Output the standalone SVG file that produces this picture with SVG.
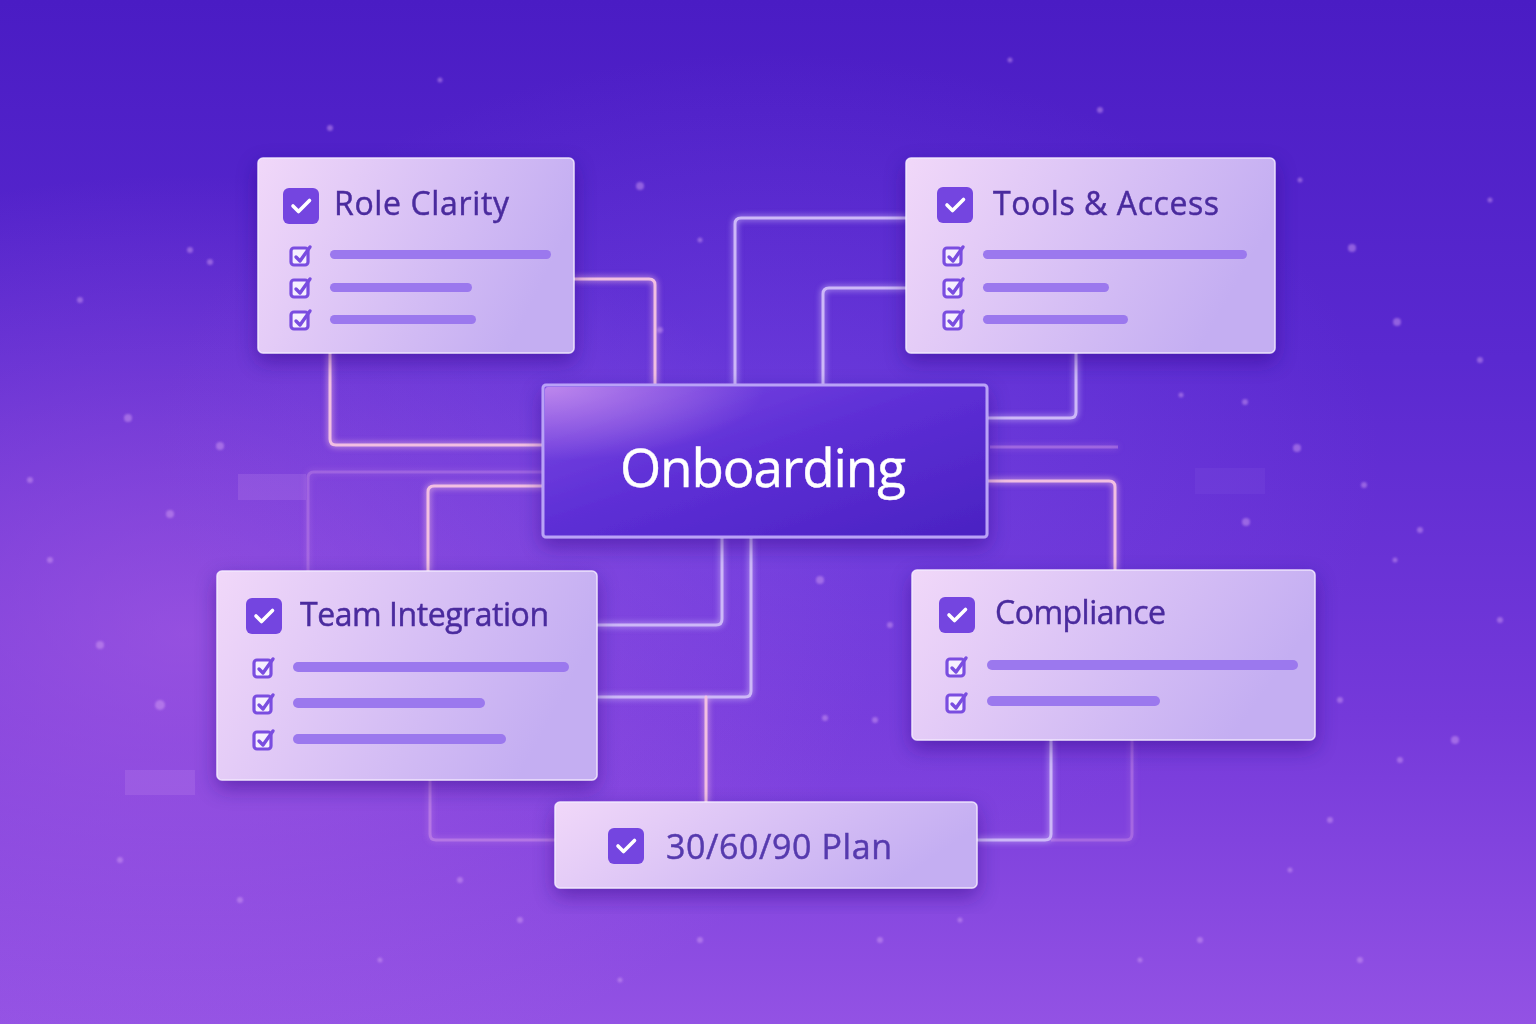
<svg xmlns="http://www.w3.org/2000/svg" xmlns:xlink="http://www.w3.org/1999/xlink" width="1536" height="1024" viewBox="0 0 1536 1024">
<defs>
  <linearGradient id="bg" x1="0" y1="0" x2="0" y2="1">
    <stop offset="0" stop-color="#4a1cc4"/>
    <stop offset="0.35" stop-color="#5a29d0"/>
    <stop offset="0.7" stop-color="#7539da"/>
    <stop offset="1" stop-color="#9352e4"/>
  </linearGradient>
  <radialGradient id="glowL" cx="0.12" cy="0.62" r="0.45">
    <stop offset="0" stop-color="#b466e6" stop-opacity="0.55"/>
    <stop offset="1" stop-color="#b466e6" stop-opacity="0"/>
  </radialGradient>
  <radialGradient id="glowC" cx="0.5" cy="0.45" r="0.4">
    <stop offset="0" stop-color="#8a5cf0" stop-opacity="0.35"/>
    <stop offset="1" stop-color="#8a5cf0" stop-opacity="0"/>
  </radialGradient>
  <linearGradient id="card" x1="0" y1="0" x2="1" y2="0.3">
    <stop offset="0" stop-color="#f1d8f9"/>
    <stop offset="1" stop-color="#c4aef2"/>
  </linearGradient>
  <linearGradient id="hub" x1="0" y1="0" x2="1" y2="1">
    <stop offset="0" stop-color="#7e4ae4"/>
    <stop offset="0.45" stop-color="#5e2fd6"/>
    <stop offset="1" stop-color="#4a22c2"/>
  </linearGradient>
  <radialGradient id="hubGlow" cx="0" cy="0" r="0.5">
    <stop offset="0" stop-color="#f0b8f4" stop-opacity="0.55"/>
    <stop offset="1" stop-color="#f0b8f4" stop-opacity="0"/>
  </radialGradient>
  <filter id="shadow" x="-20%" y="-20%" width="140%" height="150%">
    <feDropShadow dx="0" dy="8" stdDeviation="10" flood-color="#2a0a80" flood-opacity="0.45"/>
  </filter>
  <filter id="lineGlow" x="-20%" y="-20%" width="140%" height="140%">
    <feGaussianBlur stdDeviation="3" result="b"/>
    <feMerge><feMergeNode in="b"/><feMergeNode in="SourceGraphic"/></feMerge>
  </filter>
  <filter id="soft" x="-50%" y="-50%" width="200%" height="200%">
    <feGaussianBlur stdDeviation="1.2"/>
  </filter>
  <g id="bigcheck">
    <rect x="-18" y="-18" width="36" height="36" rx="6" fill="#7445e0"/>
    <path d="M-8 0 L-2.5 5.5 L8.5 -5.5" fill="none" stroke="#ffffff" stroke-width="3.6" stroke-linecap="round" stroke-linejoin="round"/>
  </g>
  <g id="smallcheck">
    <rect x="-10" y="-8" width="17" height="17" rx="3" fill="#f6efff" stroke="#7a4de0" stroke-width="3.2"/>
    <path d="M-5 1 L-1 5 L9 -9" fill="none" stroke="#7a4de0" stroke-width="3.4" stroke-linecap="round" stroke-linejoin="round"/>
  </g>
</defs>
<style>
  .card { fill: url(#card); stroke: #f5ecff; stroke-opacity: 0.85; stroke-width: 1.5; filter: url(#shadow); }
  .title { font-family: "Open Sans", "Noto Sans", "DejaVu Sans", sans-serif; font-size: 32px; fill: #4a2b9e; stroke: #4a2b9e; stroke-width: 0.45; }
  .bar { fill: #9b78ee; }
  .conn { fill: none; stroke-width: 3; stroke-linecap: round; stroke-linejoin: round; }
  .lav { stroke: #cdb8f8; }
  .pink { stroke: #f2bfe2; }
  .ghost { fill: none; stroke-width: 3; stroke: #d79ce8; }
  .dot { fill: #d8a6f6; }
</style>

<!-- background -->
<rect width="1536" height="1024" fill="url(#bg)"/>
<rect width="1536" height="1024" fill="url(#glowL)"/>
<rect width="1536" height="1024" fill="url(#glowC)"/>

<!-- particles -->
<g id="particles" opacity="0.45" filter="url(#soft)">
  <circle class="dot" cx="330" cy="128" r="3"/>
  <circle class="dot" cx="640" cy="186" r="4"/>
  <circle class="dot" cx="700" cy="240" r="2.5"/>
  <circle class="dot" cx="660" cy="330" r="3"/>
  <circle class="dot" cx="1165" cy="240" r="3"/>
  <circle class="dot" cx="1205" cy="255" r="2.5"/>
  <circle class="dot" cx="1352" cy="248" r="4"/>
  <circle class="dot" cx="1397" cy="322" r="4"/>
  <circle class="dot" cx="1480" cy="360" r="3"/>
  <circle class="dot" cx="1420" cy="530" r="3"/>
  <circle class="dot" cx="1395" cy="560" r="2.5"/>
  <circle class="dot" cx="1455" cy="740" r="4"/>
  <circle class="dot" cx="1400" cy="760" r="3"/>
  <circle class="dot" cx="1330" cy="820" r="3"/>
  <circle class="dot" cx="1290" cy="870" r="2.5"/>
  <circle class="dot" cx="1200" cy="940" r="3"/>
  <circle class="dot" cx="1140" cy="960" r="2.5"/>
  <circle class="dot" cx="160" cy="705" r="5"/>
  <circle class="dot" cx="100" cy="645" r="4"/>
  <circle class="dot" cx="80" cy="300" r="3"/>
  <circle class="dot" cx="128" cy="418" r="4"/>
  <circle class="dot" cx="220" cy="446" r="4"/>
  <circle class="dot" cx="170" cy="514" r="4"/>
  <circle class="dot" cx="50" cy="560" r="3"/>
  <circle class="dot" cx="240" cy="900" r="3"/>
  <circle class="dot" cx="380" cy="960" r="2.5"/>
  <circle class="dot" cx="460" cy="880" r="3"/>
  <circle class="dot" cx="700" cy="940" r="3"/>
  <circle class="dot" cx="880" cy="940" r="3"/>
  <circle class="dot" cx="960" cy="920" r="2.5"/>
  <circle class="dot" cx="825" cy="718" r="3"/>
  <circle class="dot" cx="820" cy="580" r="4"/>
  <circle class="dot" cx="875" cy="720" r="3"/>
  <circle class="dot" cx="890" cy="625" r="3"/>
  <circle class="dot" cx="190" cy="250" r="3"/>
  <circle class="dot" cx="210" cy="262" r="3"/>
  <circle class="dot" cx="440" cy="80" r="2.5"/>
  <circle class="dot" cx="1010" cy="60" r="2.5"/>
  <circle class="dot" cx="1100" cy="110" r="3"/>
  <circle class="dot" cx="1300" cy="180" r="2.5"/>
  <circle class="dot" cx="1490" cy="200" r="2.5"/>
  <circle class="dot" cx="30" cy="480" r="3"/>
  <circle class="dot" cx="1500" cy="620" r="3"/>
  <circle class="dot" cx="1280" cy="640" r="3"/>
  <circle class="dot" cx="1340" cy="700" r="3"/>
  <circle class="dot" cx="120" cy="860" r="3"/>
  <circle class="dot" cx="520" cy="920" r="3"/>
  <circle class="dot" cx="620" cy="980" r="2.5"/>
  <circle class="dot" cx="1360" cy="960" r="3"/>
  <circle class="dot" cx="1245" cy="402" r="3"/>
  <circle class="dot" cx="1181" cy="395" r="2.5"/>
  <circle class="dot" cx="1297" cy="448" r="4"/>
  <circle class="dot" cx="1364" cy="485" r="3"/>
  <circle class="dot" cx="1246" cy="522" r="4"/>
</g>

<!-- faint ghost panels -->
<g id="ghosts">
  <rect x="238" y="474" width="68" height="26" fill="#d8a8f4" opacity="0.16"/>
  <rect x="125" y="770" width="70" height="25" fill="#d8a8f4" opacity="0.16"/>
  <rect x="1195" y="468" width="70" height="26" fill="#b890f0" opacity="0.08"/>
</g>

<!-- connectors -->
<g id="connectors" filter="url(#lineGlow)">
  <path class="ghost" opacity="0.3" d="M308 571 V478 Q308 472 314 472 H543"/>
  <path class="ghost" opacity="0.45" d="M430 780 V834 Q430 840 436 840 H555"/>
  <path class="ghost" opacity="0.35" d="M1132 740 V834 Q1132 840 1126 840 H1051"/>
  <path class="ghost" opacity="0.4" d="M990 447 H1118"/>

  <path class="conn pink" d="M574 279 H649 Q655 279 655 285 V385"/>
  <path class="conn pink" d="M330 353 V439 Q330 445 336 445 H543"/>
  <path class="conn lav" d="M735 385 V224 Q735 218 741 218 H906"/>
  <path class="conn lav" d="M823 385 V294 Q823 288 829 288 H906"/>
  <path class="conn lav" d="M1076 353 V412 Q1076 418 1070 418 H987"/>
  <path class="conn pink" stroke="#f0acd6" d="M987 481 H1109 Q1115 481 1115 487 V570"/>
  <path class="conn pink" stroke="#e7a9e2" d="M543 486 H434 Q428 486 428 492 V571"/>
  <path class="conn lav" d="M722 537 V619 Q722 625 716 625 H597"/>
  <path class="conn lav" d="M751 537 V691 Q751 697 745 697 H597"/>
  <path class="conn pink" d="M706 697 V802"/>
  <path class="conn lav" d="M1051 740 V834 Q1051 840 1045 840 H977"/>
</g>

<!-- hub -->
<g id="node-onboarding">
  <rect x="543" y="385" width="444" height="152" rx="3" fill="url(#hub)" stroke="#b9a2f7" stroke-width="3" filter="url(#shadow)"/>
  <rect x="545" y="387" width="440" height="148" rx="3" fill="url(#hubGlow)"/>
  <text x="620" y="487" textLength="286" font-family="'Open Sans', 'Noto Sans', 'DejaVu Sans', sans-serif" font-size="53" fill="#ffffff" stroke="#ffffff" stroke-width="0.4">Onboarding</text>
</g>

<!-- Role Clarity -->
<g id="node-role-clarity">
  <rect class="card" x="258" y="158" width="316" height="195" rx="5"/>
  <use href="#bigcheck" x="301" y="206"/>
  <text class="title" x="334" y="215" textLength="175">Role Clarity</text>
  <use href="#smallcheck" x="301" y="256"/>
  <use href="#smallcheck" x="301" y="288"/>
  <use href="#smallcheck" x="301" y="320"/>
  <rect class="bar" x="330" y="250" width="221" height="9" rx="4.5"/>
  <rect class="bar" x="330" y="283" width="142" height="9" rx="4.5"/>
  <rect class="bar" x="330" y="315" width="146" height="9" rx="4.5"/>
</g>

<!-- Tools & Access -->
<g id="node-tools-access">
  <rect class="card" x="906" y="158" width="369" height="195" rx="5"/>
  <use href="#bigcheck" x="955" y="205"/>
  <text class="title" x="993" y="215" textLength="226">Tools &amp; Access</text>
  <use href="#smallcheck" x="954" y="256"/>
  <use href="#smallcheck" x="954" y="288"/>
  <use href="#smallcheck" x="954" y="320"/>
  <rect class="bar" x="983" y="250" width="264" height="9" rx="4.5"/>
  <rect class="bar" x="983" y="283" width="126" height="9" rx="4.5"/>
  <rect class="bar" x="983" y="315" width="145" height="9" rx="4.5"/>
</g>

<!-- Team Integration -->
<g id="node-team-integration">
  <rect class="card" x="217" y="571" width="380" height="209" rx="5"/>
  <use href="#bigcheck" x="264" y="616"/>
  <text class="title" x="300" y="626" textLength="249">Team Integration</text>
  <use href="#smallcheck" x="264" y="668"/>
  <use href="#smallcheck" x="264" y="704"/>
  <use href="#smallcheck" x="264" y="740"/>
  <rect class="bar" x="293" y="662" width="276" height="10" rx="5"/>
  <rect class="bar" x="293" y="698" width="192" height="10" rx="5"/>
  <rect class="bar" x="293" y="734" width="213" height="10" rx="5"/>
</g>

<!-- Compliance -->
<g id="node-compliance">
  <rect class="card" x="912" y="570" width="403" height="170" rx="5"/>
  <use href="#bigcheck" x="957" y="615"/>
  <text class="title" x="995" y="624" textLength="171">Compliance</text>
  <use href="#smallcheck" x="957" y="667"/>
  <use href="#smallcheck" x="957" y="703"/>
  <rect class="bar" x="987" y="660" width="311" height="10" rx="5"/>
  <rect class="bar" x="987" y="696" width="173" height="10" rx="5"/>
</g>

<!-- 30/60/90 Plan -->
<g id="node-plan">
  <rect class="card" x="555" y="802" width="422" height="86" rx="5"/>
  <use href="#bigcheck" x="626" y="846"/>
  <text class="title" x="666" y="859" textLength="226" style="font-size:34px;fill:#563aae;stroke:#563aae">30/60/90 Plan</text>
</g>
</svg>
